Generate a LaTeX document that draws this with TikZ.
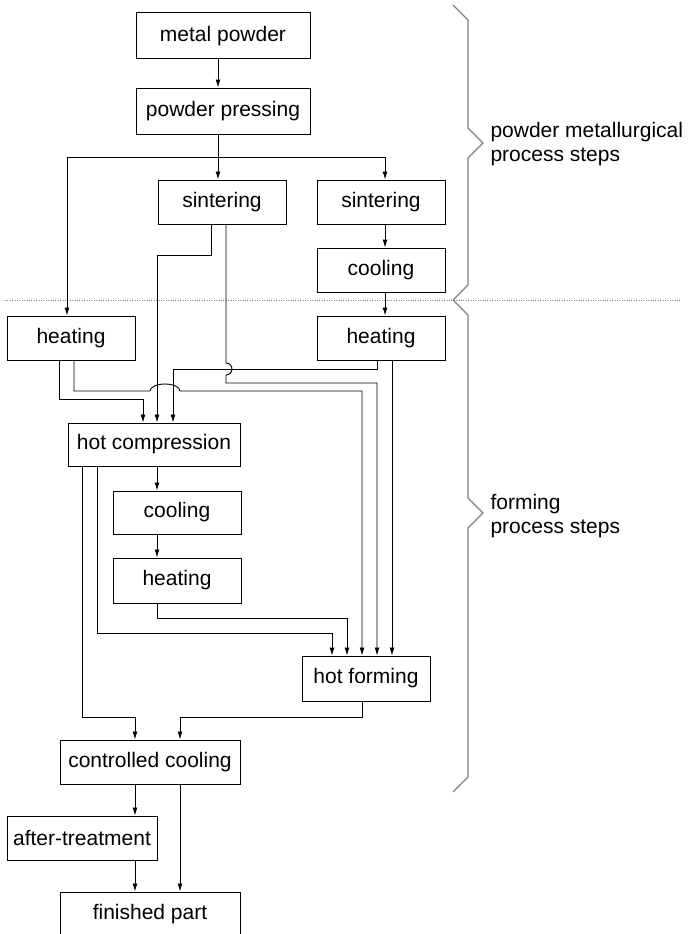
\documentclass[tikz,border=0pt]{standalone}
\usepackage{fontspec}
\setmainfont{Liberation Sans}
\usetikzlibrary{arrows.meta}

\begin{document}
\begin{tikzpicture}[x=1pt,y=-1pt,
  box/.style={draw,line width=1pt,minimum width=128,minimum height=44,inner sep=0pt},
  arr/.style={-{Latex[length=8pt,width=5pt]},line width=0.9pt},
  brace/.style={draw=gray,line width=1.3pt},
  font=\fontsize{21}{24}\selectfont]
\useasboundingbox (0,0) rectangle (688,934);
\draw[gray,dotted] (5,300) -- (680,300);

\node[box,minimum width=174,minimum height=46] (mp) at (223,36) {metal powder};
\node[box,minimum width=174,minimum height=46] (pp) at (223,111) {powder pressing};
\node[box] (sinL) at (222,202) {sintering};
\node[box] (sinR) at (381,202) {sintering};
\node[box] (coolR) at (381,270) {cooling};
\node[box] (heatL) at (71,338) {heating};
\node[box] (heatR) at (381,338) {heating};
\node[box,minimum width=172,minimum height=43] (hc) at (154,444.5) {hot compression};
\node[box,minimum height=43] (coolM) at (177,512.5) {cooling};
\node[box,minimum height=45] (heatM) at (177,580.5) {heating};
\node[box,minimum height=45] (hf) at (366,678.5) {hot forming};
\node[box,minimum width=180] (cc) at (150,762) {controlled cooling};
\node[box,minimum width=150] (at) at (82,838) {after-treatment};
\node[box,minimum width=180] (fp) at (150,914) {finished part};

\draw[arr] (mp.south -| 218,0) -- (pp.north -| 218,0);
\draw[arr] (pp.south -| 218,0) -- (sinL.north -| 218,0);
\draw[arr] (pp.south -| 218,0) |- (385,157) -- (sinR.north -| 385,0);
\draw[arr] (pp.south -| 218,0) |- (67,157) -- (heatL.north -| 67,0);
\draw[arr] (sinR.south -| 385,0) -- (coolR.north -| 385,0);
\draw[arr] (coolR.south -| 385,0) -- (heatR.north -| 385,0);

\draw[arr] (sinL.south -| 211,0) |- (157,255) -- (hc.north -| 157,0);
\draw[arr] (sinL.south -| 226,0) -- (226,363) arc[start angle=90,end angle=-90,radius=6pt]
  -- (226,383) -| (hf.north -| 377,0);
\draw[arr] (heatL.south -| 59,0) |- (143,399) -- (hc.north -| 143,0);
\draw[arr] (heatL.south -| 74,0) |- (150,391)
  arc[start angle=180,end angle=0,x radius=15pt,y radius=7pt] -| (hf.north -| 362,0);
\draw[arr] (heatR.south -| 377,0) |- (173,369) -- (hc.north -| 173,0);
\draw[arr] (heatR.south -| 392,0) -- (hf.north -| 392,0);

\draw[arr] (hc.south -| 82,0) |- (135,717) -- (cc.north -| 135,0);
\draw[arr] (hc.south -| 97,0) |- (332,633) -- (hf.north -| 332,0);
\draw[arr] (hc.south -| 157,0) -- (coolM.north -| 157,0);
\draw[arr] (coolM.south -| 157,0) -- (heatM.north -| 157,0);
\draw[arr] (heatM.south -| 157,0) |- (347,618) -- (hf.north -| 347,0);
\draw[arr] (hf.south -| 362,0) |- (180,717) -- (cc.north -| 180,0);
\draw[arr] (cc.south -| 135,0) -- (at.north -| 135,0);
\draw[arr] (cc.south -| 180,0) -- (fp.north -| 180,0);
\draw[arr] (at.south -| 135,0) -- (fp.north -| 135,0);

\draw[brace] (453,5) -- (468,20) -- (468,128) -- (483,143) -- (468,158) -- (468,285) -- (453,300);
\draw[brace] (453,300) -- (468,315) -- (468,498) -- (483,513) -- (468,528) -- (468,777) -- (453,792);
\node[anchor=west,align=left] (pm) at (487,144) {powder metallurgical\\process steps};
\node[anchor=west,align=left] (fm) at (487,516) {forming\\process steps};
\end{tikzpicture}
\end{document}
